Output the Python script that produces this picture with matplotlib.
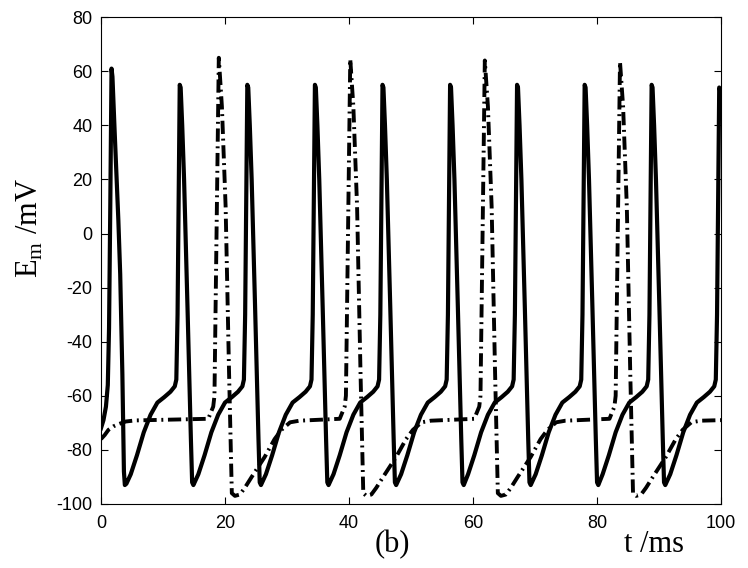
import matplotlib
matplotlib.use("Agg")
import matplotlib.pyplot as plt

plt.rcParams['axes.unicode_minus'] = False

# solid trace (t in ms, Em in mV)
t_solid = [0.0, 0.4, 0.8, 1.1, 1.3, 1.5, 1.7, 1.85, 2.2, 2.8, 3.1, 3.45, 3.7, 3.85, 4.1,
           4.8, 5.8, 6.9, 8.0, 9.1, 10.2, 11.2, 11.9,
           12.15, 12.35, 12.55, 12.7, 12.85, 13.1, 13.4, 13.95, 14.5, 14.7, 14.9,
           15.7, 16.7, 17.8, 18.9, 20.0, 21.1, 22.1, 22.8,
           23.05, 23.25, 23.45, 23.6, 23.75, 24.0, 24.3, 24.85, 25.4, 25.6, 25.8,
           26.6, 27.6, 28.7, 29.8, 30.9, 32.0, 33.0, 33.7,
           33.95, 34.15, 34.35, 34.5, 34.65, 34.9, 35.2, 35.75, 36.3, 36.5, 36.7,
           37.5, 38.5, 39.6, 40.7, 41.8, 42.9, 43.9, 44.6,
           44.85, 45.05, 45.25, 45.4, 45.55, 45.8, 46.1, 46.65, 47.2, 47.4, 47.6,
           48.4, 49.4, 50.5, 51.6, 52.7, 53.8, 54.8, 55.5,
           55.75, 55.95, 56.15, 56.3, 56.45, 56.7, 57.0, 57.55, 58.1, 58.3, 58.5,
           59.2, 60.2, 61.3, 62.4, 63.5, 64.6, 65.6, 66.3,
           66.55, 66.75, 66.95, 67.1, 67.25, 67.5, 67.8, 68.35, 68.9, 69.1, 69.3,
           70.1, 71.1, 72.2, 73.3, 74.4, 75.5, 76.5, 77.2,
           77.45, 77.65, 77.85, 78.0, 78.15, 78.4, 78.7, 79.25, 79.8, 80.0, 80.2,
           80.9, 81.9, 83.0, 84.1, 85.2, 86.3, 87.3, 88.0,
           88.25, 88.45, 88.65, 88.8, 88.95, 89.2, 89.5, 90.05, 90.6, 90.8, 91.0,
           91.8, 92.8, 93.9, 95.0, 96.1, 97.2, 98.2, 98.9,
           99.15, 99.35, 99.55, 99.7, 99.85, 100.0]
v_solid = [-72, -69, -64, -56, -35, 10, 61, 58, 38, 5, -15, -52, -88, -93, -92.5,
           -89, -82, -73.5, -67, -62.5, -60.5, -58.5, -56.5,
           -54, -30, 20, 55, 54, 40, 20, -27, -76, -92, -93,
           -89, -82, -73.5, -67, -62.5, -60.5, -58.5, -56.5,
           -54, -30, 20, 55, 54, 40, 20, -27, -76, -92, -93,
           -89, -82, -73.5, -67, -62.5, -60.5, -58.5, -56.5,
           -54, -30, 20, 55, 54, 40, 20, -27, -76, -92, -93,
           -89, -82, -73.5, -67, -62.5, -60.5, -58.5, -56.5,
           -54, -30, 20, 55, 54, 40, 20, -27, -76, -92, -93,
           -89, -82, -73.5, -67, -62.5, -60.5, -58.5, -56.5,
           -54, -30, 20, 55, 54, 40, 20, -27, -76, -92, -93,
           -89, -82, -73.5, -67, -62.5, -60.5, -58.5, -56.5,
           -54, -30, 20, 55, 54, 40, 20, -27, -76, -92, -93,
           -89, -82, -73.5, -67, -62.5, -60.5, -58.5, -56.5,
           -54, -30, 20, 55, 54, 40, 20, -27, -76, -92, -93,
           -89, -82, -73.5, -67, -62.5, -60.5, -58.5, -56.5,
           -54, -30, 20, 55, 54, 40, 20, -27, -76, -92, -93,
           -89, -82, -73.5, -67, -62.5, -60.5, -58.5, -56.5,
           -54, -30, 20, 54, 53, 48]

# dash-dot trace
t_dash = [0.0, 0.6, 1.2, 2.0, 2.8, 4.0, 5.5,
          17.3, 18.1, 18.3, 19.0, 19.5, 20.1, 20.65, 21.1, 21.6, 22.4, 23.2, 24.3, 26.4, 28.0, 29.1, 30.5, 32.0,
          38.5, 39.3, 39.5, 40.2, 40.7, 41.3, 41.85, 42.3, 42.8, 43.6, 44.4, 45.5, 47.6, 49.2, 50.3, 51.7, 53.2,
          60.2, 61.0, 61.2, 61.9, 62.4, 63.0, 63.55, 64.0, 64.5, 65.3, 66.1, 67.2, 69.3, 70.9, 72.0, 73.4, 74.9,
          82.0, 82.8, 83.0, 83.7, 84.2, 84.8, 85.35, 85.8, 86.3, 87.1, 87.9, 89.0, 91.1, 92.7, 93.8, 95.2, 96.7,
          100.0]
v_dash = [-76, -74.5, -72.6, -71.3, -70.5, -69.5, -69.1,
          -68.5, -64, -60, 65, 47, 10, -51, -96, -97, -96.5, -94, -90, -82.6, -76, -72.6, -69.8, -69.2,
          -68.5, -64, -60, 64.5, 47, 10, -51, -96, -97, -96.5, -94, -90, -82.6, -76, -72.6, -69.8, -69.2,
          -68.5, -64, -60, 64, 47, 10, -51, -96, -97, -96.5, -94, -90, -82.6, -76, -72.6, -69.8, -69.2,
          -68.5, -64, -60, 63.5, 47, 10, -51, -96, -97, -96.5, -94, -90, -82.6, -76, -72.6, -69.8, -69.2,
          -69]

x_ticks = [0, 20, 40, 60, 80, 100]
y_ticks = [-100, -80, -60, -40, -20, 0, 20, 40, 60, 80]

fig = plt.figure(figsize=(7.48, 5.68), dpi=100)
ax = fig.add_axes([0.135, 0.1127, 0.829, 0.857])

ax.plot(t_dash, v_dash, color='black', lw=2.8, linestyle=(0, (3.4, 1.2, 0.5, 1.2)))
ax.plot(t_solid, v_solid, color='black', lw=3.0, solid_joinstyle='round')

ax.set_xlim(0, 100)
ax.set_ylim(-100, 80)
ax.set_xticks(x_ticks)
ax.set_yticks(y_ticks)
for lab in ax.get_xticklabels() + ax.get_yticklabels():
    lab.set_family('Liberation Sans')
    lab.set_fontsize(13)
ax.tick_params(direction='in', length=5, width=0.8, top=True, right=True)
ax.tick_params(axis='x', pad=8)
ax.tick_params(axis='y', pad=6)
for sp in ax.spines.values():
    sp.set_linewidth(0.8)

serif = dict(family='Liberation Serif', fontsize=22)
fig.text(0.04, 1 - 228 / 568, r'E$_\mathregular{m}$ /mV', rotation=90, ha='center', va='center', **serif)
fig.text(392 / 748, 1 - 545 / 568, '(b)', ha='center', va='center', **serif)
fig.text(654 / 748, 1 - 545 / 568, 't /ms', ha='center', va='center', **serif)

fig.savefig('out.png', dpi=100)
